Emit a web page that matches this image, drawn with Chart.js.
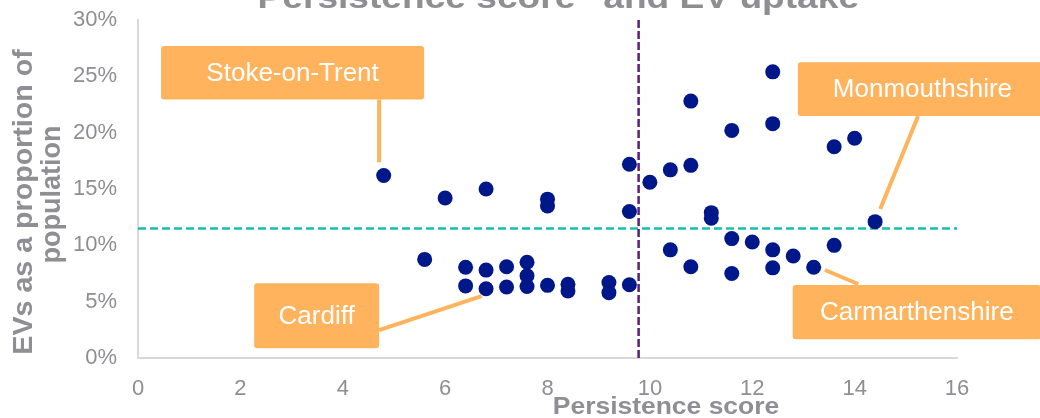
<!DOCTYPE html>
<html><head><meta charset="utf-8">
<script src="https://cdn.jsdelivr.net/npm/chart.js@4.4.1/dist/chart.umd.min.js"></script>
<style>html,body{margin:0;padding:0;background:#fff;overflow:hidden}canvas{display:block}</style>
</head><body>
<canvas id="c" width="1040" height="418"></canvas>
<script>
// ---------- DATA ----------
const chartTitle = '"Persistence score" and EV uptake';
const xAxisTitle = 'Persistence score';
const yAxisTitle = ['EVs as a proportion of', 'population'];
const xTickValues = [0, 2, 4, 6, 8, 10, 12, 14, 16];
const yTickValues = [0, 5, 10, 15, 20, 25, 30];

// persistence score (x) and EV share in % (y) for each local authority
const persistence = [4.8, 6.0, 6.8, 8.0, 8.0, 9.6, 9.6, 10.0, 10.4, 10.8,
  10.8, 11.6, 12.4, 12.4, 13.6, 14.0, 11.2, 11.2, 14.4, 10.4,
  10.8, 11.6, 11.6, 12.0, 12.4, 12.4, 12.8, 13.2, 13.6, 5.6,
  6.4, 6.4, 6.8, 6.8, 7.2, 7.2, 7.6, 7.6, 7.6, 8.0,
  8.4, 8.4, 9.2, 9.2, 9.6];
const evShare = [16.2, 14.2, 15.0, 14.1, 13.5, 17.2, 13.0, 15.6, 16.7, 17.1,
  22.8, 20.2, 25.4, 20.8, 18.75, 19.5, 12.9, 12.4, 12.1, 9.6,
  8.1, 10.6, 7.5, 10.3, 9.6, 8.0, 9.05, 8.05, 10.0, 8.75,
  8.05, 6.4, 7.8, 6.15, 8.1, 6.3, 8.5, 7.3, 6.35, 6.45,
  6.55, 5.95, 6.7, 5.8, 6.5];

const avgPersistence = 9.78;   // vertical reference line
const avgEvShare = 11.5;       // horizontal reference line

const calloutLabels = ['Stoke-on-Trent', 'Cardiff', 'Monmouthshire', 'Carmarthenshire'];
const calloutPointIndex = [0, 33, 18, 27];

// ---------- LAYOUT / STYLE (kept apart from data) ----------
const calloutLayout = [
  { box: [0.45, 5.59, 27.7, 22.95], from: [4.71, 22.95], to: [4.71, 17.37] },
  { box: [2.27, 4.71, 6.63, 0.86],  from: [4.71, 2.48],  to: [6.71, 5.5] },
  { box: [12.89, 17.76, 26.26, 21.47], from: [15.24, 21.47], to: [14.50, 13.22] },
  { box: [12.79, 17.64, 6.48, 1.66], from: [13.42, 7.81], to: [14.07, 6.57] }
];
const GREY = '#8E8E93';
const ORANGE = '#FFB35C';
const NAVY = '#00178A';
const FONT = '"Liberation Sans", Arial, sans-serif';

function drawScaledText(ctx, text, x, y, font, sx, align, color) {
  ctx.save();
  ctx.font = font;
  ctx.fillStyle = color;
  ctx.textBaseline = 'alphabetic';
  ctx.textAlign = align;
  ctx.translate(x, y);
  ctx.scale(sx, 1);
  ctx.fillText(text, 0, 0);
  ctx.restore();
}

const decor = {
  id: 'decor',
  afterDraw(chart) {
    const ctx = chart.ctx, xs = chart.scales.x, ys = chart.scales.y;
    const ca = chart.chartArea;
    drawScaledText(ctx, chartTitle, (ca.left + ca.right) / 2 + 2, 8, 'bold 32px ' + FONT, 1.16, 'center', GREY);
    drawScaledText(ctx, xAxisTitle, 666, 414, 'bold 23px ' + FONT, 1.15, 'center', GREY);
    ctx.save();
    ctx.rotate(-Math.PI / 2);
    drawScaledText(ctx, yAxisTitle[0], -202, 32, 'bold 27px ' + FONT, 1.06, 'center', GREY);
    drawScaledText(ctx, yAxisTitle[1], -194.5, 60, 'bold 27px ' + FONT, 1.0, 'center', GREY);
    ctx.restore();

    calloutLabels.forEach((label, i) => {
      const L = calloutLayout[i];
      ctx.save();
      ctx.strokeStyle = ORANGE;
      ctx.lineWidth = 4;
      ctx.beginPath();
      ctx.moveTo(xs.getPixelForValue(L.from[0]), ys.getPixelForValue(L.from[1]));
      ctx.lineTo(xs.getPixelForValue(L.to[0]), ys.getPixelForValue(L.to[1]));
      ctx.stroke();
      const x0 = xs.getPixelForValue(L.box[0]), x1 = xs.getPixelForValue(L.box[1]);
      const y0 = ys.getPixelForValue(L.box[2]), y1 = ys.getPixelForValue(L.box[3]);
      ctx.fillStyle = ORANGE;
      ctx.beginPath();
      if (ctx.roundRect) ctx.roundRect(x0, y0, x1 - x0, y1 - y0, 3); else ctx.rect(x0, y0, x1 - x0, y1 - y0);
      ctx.fill();
      ctx.font = '26px ' + FONT;
      ctx.fillStyle = '#FFFFFF';
      ctx.textAlign = 'center';
      ctx.textBaseline = 'middle';
      ctx.fillText(label, (x0 + x1) / 2, (y0 + y1) / 2 + 1);
      ctx.restore();
    });
  }
};

new Chart(document.getElementById('c'), {
  type: 'scatter',
  data: {
    datasets: [
      {
        label: 'Local authorities',
        data: persistence.map((x, i) => ({ x: x, y: evShare[i] })),
        backgroundColor: NAVY,
        borderWidth: 0,
        pointRadius: 7.5,
        pointHoverRadius: 7.5,
        order: 0
      },
      {
        label: 'Average persistence',
        data: [{ x: avgPersistence, y: yTickValues[0] }, { x: avgPersistence, y: yTickValues[yTickValues.length - 1] }],
        showLine: true,
        borderColor: '#5A1E7C',
        borderWidth: 2.5,
        borderDash: [8, 3],
        pointRadius: 0,
        order: 1
      },
      {
        label: 'Average EV share',
        data: [{ x: xTickValues[0], y: avgEvShare }, { x: xTickValues[xTickValues.length - 1], y: avgEvShare }],
        showLine: true,
        borderColor: '#18BFB0',
        borderWidth: 2.5,
        borderDash: [8, 4],
        pointRadius: 0,
        order: 2
      }
    ]
  },
  options: {
    responsive: false,
    animation: false,
    devicePixelRatio: 1,
    layout: { padding: { top: 20, right: 83, left: 0, bottom: 0 } },
    plugins: { legend: { display: false }, tooltip: { enabled: false }, title: { display: false } },
    scales: {
      x: {
        type: 'linear',
        min: xTickValues[0], max: xTickValues[xTickValues.length - 1],
        afterBuildTicks: s => { s.ticks = xTickValues.map(v => ({ value: v })); },
        afterFit: s => { s.height = 60; s.paddingLeft = 0; s.paddingRight = 0; },
        ticks: { color: GREY, font: { family: FONT, size: 22 }, padding: 10, maxRotation: 0 },
        grid: { display: false },
        border: { display: true, color: '#D9D9D9', width: 2 }
      },
      y: {
        type: 'linear',
        min: yTickValues[0], max: yTickValues[yTickValues.length - 1],
        afterBuildTicks: s => { s.ticks = yTickValues.map(v => ({ value: v })); },
        afterFit: s => { s.width = 138; s.paddingTop = 0; s.paddingBottom = 0; },
        ticks: { color: GREY, font: { family: FONT, size: 22 }, padding: 13, callback: v => v + '%' },
        grid: { display: false },
        border: { display: true, color: '#D9D9D9', width: 2 }
      }
    }
  },
  plugins: [decor]
});
</script>
</body></html>
